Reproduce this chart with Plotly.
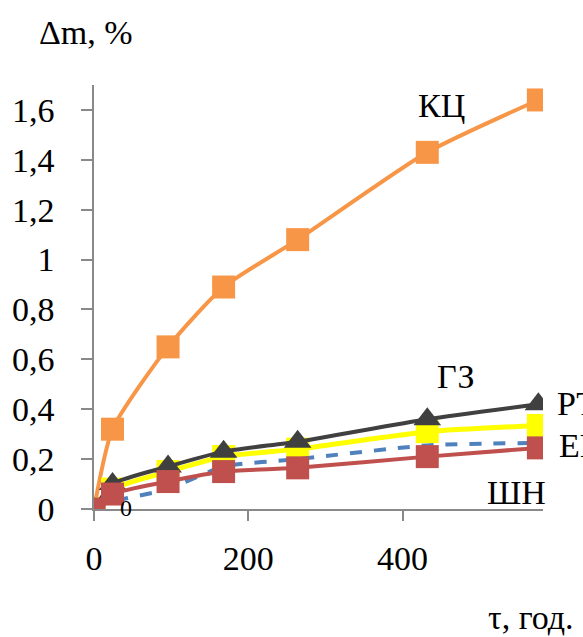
import plotly.graph_objects as go

# ---- data ----
tau = [0, 24, 96, 168, 264, 432, 576]
kc = [0, 0.32, 0.65, 0.89, 1.08, 1.43, 1.64]        # orange
yellow_s = [0, 0.08, 0.15, 0.21, 0.24, 0.31, 0.335]  # yellow
blue_s = [0, 0.03, 0.08, 0.17, 0.20, 0.255, 0.265]   # blue dashed
black_s = [0, 0.10, 0.17, 0.23, 0.27, 0.36, 0.42]    # dark triangles
red_s = [0, 0.06, 0.11, 0.15, 0.165, 0.21, 0.245]    # red squares

y_ticks = [0, 0.2, 0.4, 0.6, 0.8, 1, 1.2, 1.4, 1.6]
y_ticklabels = ["0", "0,2", "0,4", "0,6", "0,8", "1", "1,2", "1,4", "1,6"]
x_ticks = [0, 200, 400]

FONT = "Liberation Serif, Times New Roman, DejaVu Serif, serif"
FS = 34
WIDTH, HEIGHT = 583, 637
L, R, T, B = 87, 40, 85, 128
PW, PH = WIDTH - L - R, HEIGHT - T - B


def px(x):
    return (x - L) / PW


def py(y):
    return (HEIGHT - B - y) / PH


fig = go.Figure()
fig.add_trace(go.Scatter(x=tau, y=kc, mode="lines+markers",
                         line=dict(color="#F79646", width=4, shape="spline", smoothing=0.6),
                         marker=dict(symbol="square", size=23, color="#F79646")))
fig.add_trace(go.Scatter(x=tau, y=yellow_s, mode="lines+markers",
                         line=dict(color="#FFFF00", width=5, shape="spline", smoothing=0.6),
                         marker=dict(symbol="square", size=23, color="#FFFF00")))
fig.add_trace(go.Scatter(x=tau, y=blue_s, mode="lines",
                         line=dict(color="#4F81BD", width=4, dash="dash", shape="spline", smoothing=0.6)))
fig.add_trace(go.Scatter(x=tau, y=black_s, mode="lines+markers",
                         line=dict(color="#404040", width=4, shape="spline", smoothing=0.6),
                         marker=dict(symbol="triangle-up", size=24, color="#404040")))
fig.add_trace(go.Scatter(x=tau, y=red_s, mode="lines+markers",
                         line=dict(color="#C0504D", width=4, shape="spline", smoothing=0.6),
                         marker=dict(symbol="square", size=23, color="#C0504D")))

axis_col = "#898989"
fig.update_xaxes(range=[0, 582], tickvals=x_ticks, ticktext=[str(v) for v in x_ticks],
                 showgrid=False, zeroline=False, showline=True, linecolor=axis_col, linewidth=1.5,
                 ticks="outside", ticklen=10, tickcolor=axis_col, tickwidth=1.5,
                 ticklabelstandoff=8,
                 tickfont=dict(family=FONT, size=FS, color="black"))
fig.update_yaxes(range=[0, 1.7], tickvals=y_ticks, ticktext=y_ticklabels,
                 showgrid=False, zeroline=False, showline=True, linecolor=axis_col, linewidth=1.5,
                 ticks="outside", ticklen=11, tickcolor=axis_col, tickwidth=1.5,
                 ticklabelstandoff=20,
                 tickfont=dict(family=FONT, size=FS, color="black"))

annots = [
    ("Δm, %", 29, 32, "left"),
    ("τ, год.", 577, 617, "right"),
    ("КЦ", 440, 105, "center"),
    ("ГЗ", 455, 376, "center"),
    ("РТ", 555, 403, "left"),
    ("ЕП", 557, 445, "left"),
    ("ШН", 516, 492, "center"),
]
for text, x, y, anc in annots:
    fig.add_annotation(text=text, x=px(x), y=py(y), xref="paper", yref="paper",
                       xanchor=anc, yanchor="middle", showarrow=False,
                       font=dict(family=FONT, size=FS, color="black"))
fig.add_annotation(text="0", x=px(120), y=py(508), xref="paper", yref="paper",
                   xanchor="center", yanchor="middle", showarrow=False,
                   font=dict(family=FONT, size=24, color="black"))

fig.update_layout(width=WIDTH, height=HEIGHT, margin=dict(l=L, r=R, t=T, b=B),
                  paper_bgcolor="white", plot_bgcolor="white", showlegend=False,
                  font=dict(family=FONT))

fig.write_html("out.html", config={"displayModeBar": False},
               post_script="document.body.style.margin='0';document.body.style.padding='0';")
